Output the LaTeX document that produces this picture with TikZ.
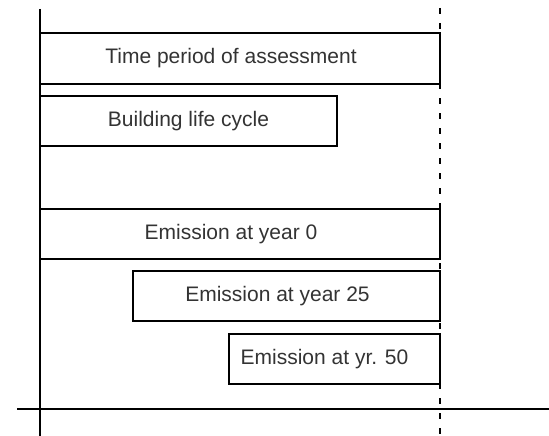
\documentclass[tikz,border=0pt]{standalone}
\usepackage{fontspec}
\setmainfont{Liberation Sans}
\usetikzlibrary{positioning}

\begin{document}
\begin{tikzpicture}[x=1pt,y=-1pt,
  bar/.style={draw,line width=1.5pt,minimum height=50pt,inner sep=0pt,outer sep=0pt,
    font=\fontsize{21}{25}\selectfont,text=black!80},
  every label/.style={font=\fontsize{21}{25}\selectfont,text=black!80},
  axis/.style={line width=1.5pt}]
\useasboundingbox (0,0) rectangle (549,436);

\node[bar,minimum width=400pt,minimum height=51pt,
  label={[xshift=-9pt]center:Time period of assessment}] (tpa) at (240,58.5) {};
\node[bar,minimum width=297pt,below=12pt of tpa.south west,anchor=north west] (blc) {Building life cycle};

\node[bar,minimum width=400pt,below=63pt of blc.south west,anchor=north west,
  label={[xshift=-9pt]center:Emission at year 0}] (em0) {};
\node[bar,minimum width=307pt,below=12pt of em0.south east,anchor=north east,
  label={[xshift=-9pt]center:Emission at year 25}] (em25) {};
\node[bar,minimum width=211pt,below=13pt of em25.south east,anchor=north east,
  label={[xshift=-10pt]center:Emission at yr. 50}] (em50) {};

%time lines
\coordinate (ltop) at (40,9);
\coordinate (lbot) at (40,436);
\coordinate (rtop) at (440,8);
\coordinate (rbot) at (440,436);
\coordinate (xl) at (17,409);
\coordinate (xr) at (549,409);

\draw[axis] (ltop) -- (lbot);
\draw[axis,dash pattern=on 6pt off 9pt] (rtop) -- (rbot);
\draw[axis] (xl) -- (xr);
\end{tikzpicture}
\end{document}
